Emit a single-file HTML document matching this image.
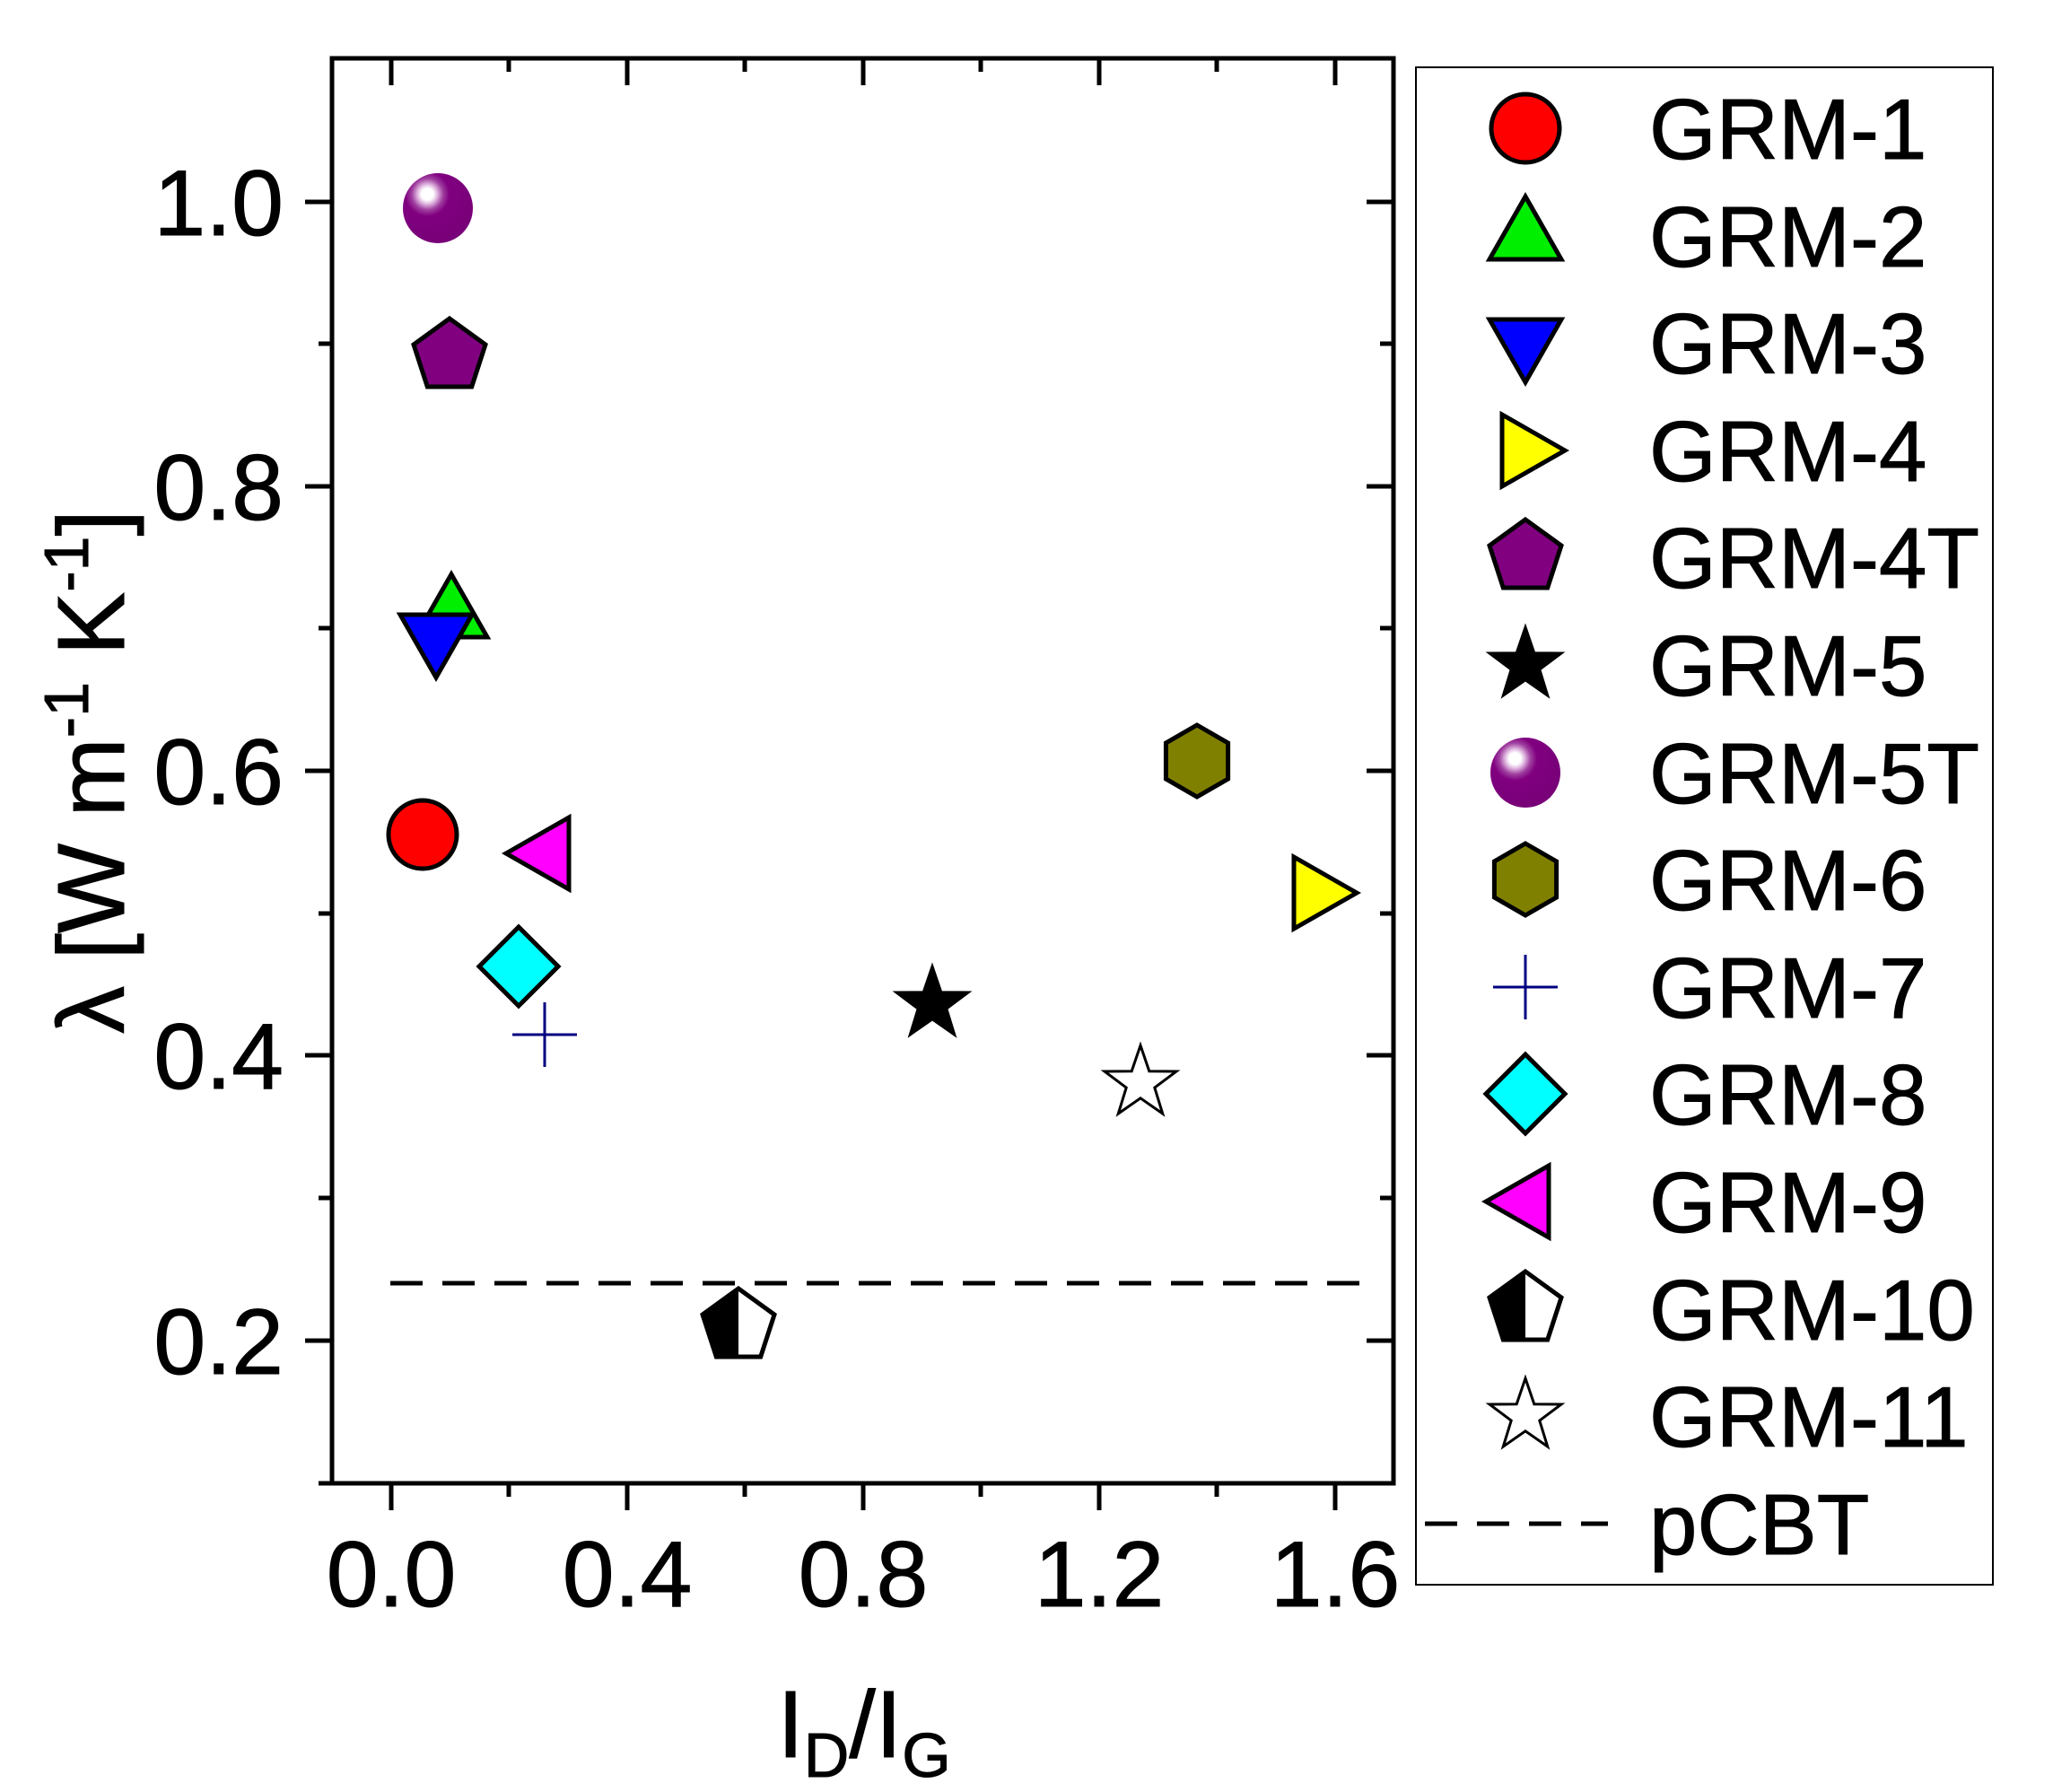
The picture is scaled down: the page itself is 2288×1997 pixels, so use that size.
<!DOCTYPE html>
<html><head><meta charset="utf-8"><style>
html,body{margin:0;padding:0;background:#fff}
svg{display:block}
text{font-family:"Liberation Sans",Arial,sans-serif;fill:#000;stroke:#000;stroke-width:1}
</style></head><body>
<svg width="2288" height="1997" viewBox="0 0 2288 1997" xmlns="http://www.w3.org/2000/svg">
<defs>
<radialGradient id="sph" cx="0.35" cy="0.3" r="0.7">
<stop offset="0" stop-color="#fff"/><stop offset="0.12" stop-color="#fff"/><stop offset="0.2" stop-color="#e0b8e0"/><stop offset="0.32" stop-color="#a040a0"/><stop offset="0.45" stop-color="#800080"/><stop offset="1" stop-color="#780078"/>
</radialGradient>
<g id="m1"><circle r="38" fill="#f00" stroke="#000" stroke-width="5"/></g>
<g id="m2"><polygon points="0,-44 40,26 -40,26" fill="#0e0" stroke="#000" stroke-width="5"/></g>
<g id="m3"><polygon points="0,44 40,-26 -40,-26" fill="#00f" stroke="#000" stroke-width="5"/></g>
<g id="m4"><polygon points="44,0 -26,-40 -26,40" fill="#ff0" stroke="#000" stroke-width="5"/></g>
<g id="m9"><polygon points="-44,0 26,-40 26,40" fill="#f0f" stroke="#000" stroke-width="5"/></g>
<g id="m4t"><polygon points="0,-42 40,-13 24.7,34 -24.7,34 -40,-13" fill="#800080" stroke="#000" stroke-width="5"/></g>
<g id="m5"><polygon points="0,-42 9.8,-13.3 40,-13 15.8,5.1 24.7,34 0,16.8 -24.7,34 -15.8,5.1 -40,-13 -9.8,-13.3" fill="#000" stroke="#000" stroke-width="3"/></g>
<g id="m11"><polygon points="0,-42 9.8,-13.3 40,-13 15.8,5.1 24.7,34 0,16.8 -24.7,34 -15.8,5.1 -40,-13 -9.8,-13.3" fill="#fff" stroke="#000" stroke-width="3"/></g>
<g id="m5t"><circle r="39" fill="url(#sph)"/></g>
<g id="m6"><polygon points="0,-40 34.6,-20 34.6,20 0,40 -34.6,20 -34.6,-20" fill="#808000" stroke="#000" stroke-width="5"/></g>
<g id="m7"><path d="M-36,0H36M0,-36V36" stroke="#000080" stroke-width="3"/></g>
<g id="m8"><polygon points="0,-44 44,0 0,44 -44,0" fill="#0ff" stroke="#000" stroke-width="5"/></g>
<g id="m10"><polygon points="0,-42 40,-13 24.7,34 -24.7,34 -40,-13" fill="#fff" stroke="#000" stroke-width="5"/><polygon points="0,-42 -40,-13 -24.7,34 0,34" fill="#000"/></g>
</defs>

<rect x="370" y="65" width="1183" height="1588" fill="none" stroke="#000" stroke-width="5"/>
<g stroke="#000" stroke-width="5">
<path d="M436,1653v30M567,1653v15M699,1653v30M830,1653v15M962,1653v30M1093,1653v15M1225,1653v30M1356,1653v15M1488,1653v30M1619,1653v15"/>
<path d="M436,65v30M567,65v15M699,65v30M830,65v15M962,65v30M1093,65v15M1225,65v30M1356,65v15M1488,65v30"/>
<path d="M370,225h-30M370,383h-15M370,542h-30M370,700h-15M370,859h-30M370,1018h-15M370,1176h-30M370,1335h-15M370,1494h-30M370,1653h-15"/>
<path d="M1553,225h-30M1553,383h-15M1553,542h-30M1553,700h-15M1553,859h-30M1553,1018h-15M1553,1176h-30M1553,1335h-15M1553,1494h-30"/>
</g>
<g font-size="104" text-anchor="end">
<text x="316" y="262">1.0</text>
<text x="316" y="579">0.8</text>
<text x="316" y="896">0.6</text>
<text x="316" y="1213">0.4</text>
<text x="316" y="1531">0.2</text>
</g>
<g font-size="104" text-anchor="middle">
<text x="436" y="1790">0.0</text>
<text x="699" y="1790">0.4</text>
<text x="962" y="1790">0.8</text>
<text x="1225" y="1790">1.2</text>
<text x="1488" y="1790">1.6</text>
</g>
<text font-size="106" text-anchor="middle" x="963" y="1958">I<tspan font-size="70" dy="22">D</tspan><tspan dy="-22">/I</tspan><tspan font-size="70" dy="22">G</tspan></text>
<text font-size="106" text-anchor="middle" transform="translate(138,860) rotate(-90)">λ [W m<tspan font-size="70" dy="-40">-1</tspan><tspan dy="40"> K</tspan><tspan font-size="70" dy="-40">-1</tspan><tspan dy="40">]</tspan></text>

<path d="M435,1430H1522" stroke="#000" stroke-width="5" stroke-dasharray="36,22"/>

<use href="#m5t" x="488" y="232"/>
<use href="#m4t" x="501" y="397"/>
<use href="#m2" x="503" y="684"/>
<use href="#m3" x="486" y="711"/>
<use href="#m1" x="471" y="930"/>
<use href="#m9" x="608" y="951"/>
<use href="#m8" x="578" y="1077"/>
<use href="#m7" x="607" y="1153"/>
<use href="#m5" x="1039" y="1119"/>
<use href="#m11" x="1271" y="1207"/>
<use href="#m6" x="1334" y="848"/>
<use href="#m4" x="1468" y="995"/>
<use href="#m10" x="823" y="1478"/>

<rect x="1578" y="75" width="643" height="1691" fill="#fff" stroke="#000" stroke-width="2"/>
<g>
<use href="#m1" x="1700" y="143"/>
<use href="#m2" x="1700" y="263"/>
<use href="#m3" x="1700" y="382"/>
<use href="#m4" x="1700" y="502"/>
<use href="#m4t" x="1700" y="621"/>
<use href="#m5" x="1700" y="741"/>
<use href="#m5t" x="1700" y="861"/>
<use href="#m6" x="1700" y="980"/>
<use href="#m7" x="1700" y="1100"/>
<use href="#m8" x="1700" y="1219"/>
<use href="#m9" x="1700" y="1339"/>
<use href="#m10" x="1700" y="1459"/>
<use href="#m11" x="1700" y="1578"/>
<path d="M1588,1698H1792" stroke="#000" stroke-width="5" stroke-dasharray="36,22"/>
</g>
<g font-size="96">
<text x="1838" y="177">GRM-1</text>
<text x="1838" y="297">GRM-2</text>
<text x="1838" y="416">GRM-3</text>
<text x="1838" y="536">GRM-4</text>
<text x="1838" y="655">GRM-4T</text>
<text x="1838" y="775">GRM-5</text>
<text x="1838" y="895">GRM-5T</text>
<text x="1838" y="1014">GRM-6</text>
<text x="1838" y="1134">GRM-7</text>
<text x="1838" y="1253">GRM-8</text>
<text x="1838" y="1373">GRM-9</text>
<text x="1838" y="1493">GRM-10</text>
<text x="1838" y="1612">GRM-11</text>
<text x="1838" y="1732">pCBT</text>
</g>
</svg>
</body></html>
